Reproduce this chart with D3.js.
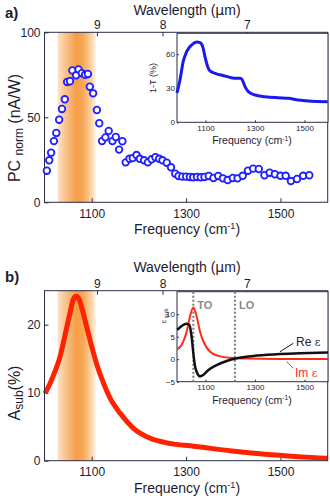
<!DOCTYPE html>
<html lang="en">
<head>
<meta charset="UTF-8" />
<title>Photocurrent and substrate absorption</title>
<style>
  body { margin: 0; background: #fff; }
  text { font-family: "Liberation Sans", Arial, sans-serif; fill: #1c1c30; }
  .frame { fill: none; stroke: #2b2b48; stroke-width: 1px; }
  .inset-bg { fill: #fff; stroke: #2b2b48; stroke-width: 1px; }
  .tick line { stroke: #2b2b48; }
  .axis text { font-size: 12px; }
  .small text { font-size: 8px; }
  .pc-dot { fill: #fff; stroke: #1f1fff; stroke-width: 1.8px; }
  .t-line { fill: none; stroke: #1a1aee; stroke-width: 3px; }
  .a-line { fill: none; stroke: #ff2200; stroke-width: 5px; }
  .re-line { fill: none; stroke: #111; stroke-width: 2.5px; }
  .im-line { fill: none; stroke: #ff2a1a; stroke-width: 2px; }
  .phonon { stroke: #7a7a7a; stroke-width: 2px; stroke-dasharray: 2,2; }
</style>
</head>
<body>
<script src="https://cdn.jsdelivr.net/npm/d3@7"></script>
<script>

// panel a: photocurrent (circles)
var pcFreq = [1005,1010,1014,1020,1025,1031,1037,1043,1048,1054,1059,1067,1072,1079,1086,1092,1096,1103,1111,1116,1122,1129,1136,1144,1151,1158,1165,1172,1180,1187,1195,1202,1211,1219,1227,1235,1243,1250,1259,1268,1277,1284,1292,1300,1308,1315,1323,1331,1339,1348,1358,1368,1378,1388,1399,1409,1420,1431,1442,1454,1466,1477,1488,1500,1511,1522,1535,1548,1561];
var pcValue = [18.6,24.7,29.2,36,40.8,48.6,54.9,60.6,70.8,71.2,77.6,74.7,78.2,76,75,75.5,68,64.1,54.3,46.5,36,38.2,42,36,38.4,31,35.9,23.5,25.6,26,27.8,25.6,24.7,23.5,25.3,26.5,25.6,24.7,23.3,20.6,16.8,15.5,15.1,15.1,14.9,14.7,14.9,14.7,14.9,15.5,14.3,15.5,14.1,13.1,14.3,14.1,15.6,18.6,19.8,19.6,15.9,17.4,16.5,15.6,15.6,12.5,13.7,15.6,15.9];

// inset a: 1-T (%)
var tFreq = [985,997,1010,1024,1044,1065,1078,1089,1098,1109,1118,1139,1179,1219,1240,1249,1260,1273,1300,1341,1394,1435,1475,1515,1594];
var tValue = [26,37.3,53.5,62.3,68.2,70.8,70.3,66.7,57.9,49,45.3,43.2,40.9,38.8,38.8,37.3,31.4,27,24.1,22.6,21.7,21.2,19.7,18.8,18.2];

// panel b: substrate absorption (%)
var aFreq = [1001,1012,1022,1033,1043,1054,1061,1067,1073,1079,1089,1100,1111,1125,1139,1160,1188,1224,1254,1326,1397,1467,1538,1600];
var aValue = [9.9,11.4,13.1,15.3,18.3,21.7,23.7,24.2,23.8,22.5,19.8,16.8,14.1,11.4,9.2,7.0,4.8,3.3,2.7,2.06,1.43,0.94,0.59,0.35];

// inset b: permittivity of the substrate
var reFreq = [986,1010,1024,1035,1044,1051,1058,1067,1078,1091,1112,1145,1186,1226,1293,1388,1482,1595];
var reValue = [6.5,7.6,7.9,7.6,5.0,1.3,-1.6,-3.1,-3.8,-3.5,-2.4,-1.3,-0.4,0.2,0.73,1.1,1.3,1.5];
var imFreq = [986,1004,1024,1037,1051,1065,1078,1098,1118,1152,1199,1267,1400,1595];
var imValue = [2.2,3.2,6.1,9.4,11.5,9.4,6.1,3.2,1.7,0.73,0.3,0.13,0.05,0.02];

var phononFreq = [1051, 1219];
var phononName = ["TO", "LO"];
var bandFreq = [1028, 1109];

var freqTicks = [1100, 1300, 1500];
var waveTicks = [9, 8, 7];

var svg = d3.select("body").append("svg")
  .attr("width", 330)
  .attr("height", 499);

var defs = svg.append("defs");
var grad = defs.append("linearGradient").attr("id", "band");
grad.append("stop").attr("offset", "0%").attr("stop-color", "#fde2c6");
grad.append("stop").attr("offset", "25%").attr("stop-color", "#f9bd83");
grad.append("stop").attr("offset", "50%").attr("stop-color", "#f59c45");
grad.append("stop").attr("offset", "68%").attr("stop-color", "#f7aa5c");
grad.append("stop").attr("offset", "88%").attr("stop-color", "#fbd4a8");
grad.append("stop").attr("offset", "100%").attr("stop-color", "#fff3e8");

var xMain = d3.scaleLinear().domain([1000, 1600]).range([44.5, 327.7]);
var xInset = d3.scaleLinear().domain([985, 1595]).range([177, 328]);

function freqLabel(g, x, y, size) {
  var t = g.append("text").attr("x", x).attr("y", y)
    .attr("text-anchor", "middle").style("font-size", size + "px");
  t.append("tspan").text("Frequency (cm");
  t.append("tspan").attr("dy", -size * 0.35).style("font-size", (size * 0.65) + "px").text("-1");
  t.append("tspan").attr("dy", size * 0.35).text(")");
}

function mainPanel(yScale, yTicks, letter, letterY, waveY) {
  var g = svg.append("g");
  var y0 = yScale.range()[0], y1 = yScale.range()[1];

  g.append("rect")
    .attr("x", xMain(bandFreq[0]))
    .attr("y", y1)
    .attr("width", xMain(bandFreq[1]) - xMain(bandFreq[0]))
    .attr("height", y0 - y1)
    .attr("fill", "url(#band)");

  g.append("g").attr("class", "axis")
    .attr("transform", "translate(0," + y0 + ")")
    .call(d3.axisBottom(xMain).tickValues(freqTicks).tickSize(-4).tickPadding(7).tickFormat(d3.format("d")))
    .call(function(s) { s.select(".domain").remove(); });

  g.append("g").attr("class", "axis")
    .attr("transform", "translate(0," + y1 + ")")
    .call(d3.axisTop(xMain).tickValues(waveTicks.map(function(w) { return 10000 / w; }))
      .tickSize(-4).tickPadding(3)
      .tickFormat(function(d) { return Math.round(10000 / d); }))
    .call(function(s) { s.select(".domain").remove(); });

  g.append("g").attr("class", "axis")
    .attr("transform", "translate(" + xMain.range()[0] + ",0)")
    .call(d3.axisLeft(yScale).tickValues(yTicks).tickSize(-4).tickPadding(4))
    .call(function(s) { s.select(".domain").remove(); });

  g.append("rect").attr("class", "frame")
    .attr("x", xMain.range()[0]).attr("y", y1)
    .attr("width", xMain.range()[1] - xMain.range()[0])
    .attr("height", y0 - y1);

  g.append("text").attr("x", 5).attr("y", letterY)
    .style("font-size", "15px").style("font-weight", "bold").text(letter);

  var w = g.append("text").attr("x", 187).attr("y", waveY)
    .attr("text-anchor", "middle").style("font-size", "14px");
  w.append("tspan").text("Wavelength (");
  w.append("tspan").style("font-family", "'DejaVu Sans', sans-serif").text("\u03bc");
  w.append("tspan").text("m)");

  freqLabel(g, 187, y0 + 32, 14);
  return g;
}

function insetBox(yScale, yTicks) {
  var g = svg.append("g");
  var y0 = yScale.range()[0], y1 = yScale.range()[1];
  g.append("rect").attr("class", "inset-bg")
    .attr("x", xInset.range()[0]).attr("y", y1)
    .attr("width", xInset.range()[1] - xInset.range()[0])
    .attr("height", y0 - y1);

  g.append("g").attr("class", "axis small")
    .attr("transform", "translate(0," + y0 + ")")
    .call(d3.axisBottom(xInset).tickValues(freqTicks).tickSize(-2).tickPadding(3).tickFormat(d3.format("d")))
    .call(function(s) { s.select(".domain").remove(); });

  g.append("g").attr("class", "axis small")
    .attr("transform", "translate(" + xInset.range()[0] + ",0)")
    .call(d3.axisLeft(yScale).tickValues(yTicks).tickSize(-2).tickPadding(2))
    .call(function(s) { s.select(".domain").remove(); });

  freqLabel(g, 252, y0 + 22, 10.5);
  return g;
}

// ---------- panel a ----------
var yA = d3.scaleLinear().domain([0, 100]).range([202.3, 32.3]);
mainPanel(yA, [0, 50, 100], "a)", 18, 15);

svg.append("g").selectAll("circle")
  .data(pcFreq)
  .enter()
  .append("circle")
  .attr("class", "pc-dot")
  .attr("cx", function(d) { return xMain(d); })
  .attr("cy", function(d, i) { return yA(pcValue[i]); })
  .attr("r", 3.3);

var ylabA = svg.append("text")
  .attr("transform", "translate(20,128) rotate(-90)")
  .attr("text-anchor", "middle").style("font-size", "16px");
ylabA.append("tspan").text("PC ");
ylabA.append("tspan").attr("dy", 3).style("font-size", "12px").text("norm");
ylabA.append("tspan").attr("dy", -3).text(" (nA/W)");

var yTi = d3.scaleLinear().domain([0, 78.5]).range([122.3, 33.3]);
var insetA = insetBox(yTi, [0, 30, 60]);
insetA.append("path")
  .datum(tFreq)
  .attr("class", "t-line")
  .attr("d", d3.line()
    .x(function(d) { return xInset(d); })
    .y(function(d, i) { return yTi(tValue[i]); })
    .curve(d3.curveMonotoneX));
insetA.append("text")
  .attr("transform", "translate(156,78) rotate(-90)")
  .attr("text-anchor", "middle").style("font-size", "9px").text("1-T (%)");

// ---------- panel b ----------
var yB = d3.scaleLinear().domain([0, 25]).range([460.7, 290.7]);
var panelB = mainPanel(yB, [0, 10, 20], "b)", 282, 272);
panelB.insert("path", "rect.frame")
  .datum(aFreq)
  .attr("class", "a-line")
  .attr("d", d3.line()
    .x(function(d) { return xMain(d); })
    .y(function(d, i) { return yB(aValue[i]); })
    .curve(d3.curveMonotoneX));

var ylabB = svg.append("text")
  .attr("transform", "translate(20,393) rotate(-90)")
  .attr("text-anchor", "middle").style("font-size", "16px");
ylabB.append("tspan").text("A");
ylabB.append("tspan").attr("dy", 3).style("font-size", "12px").text("sub");
ylabB.append("tspan").attr("dy", -3).text("(%)");

var yEps = d3.scaleLinear().domain([-5, 15]).range([381.7, 291.7]);
var insetB = insetBox(yEps, [-5, 0, 5, 10]);

insetB.selectAll("line.phonon")
  .data(phononFreq)
  .enter()
  .append("line")
  .attr("class", "phonon")
  .attr("x1", function(d) { return xInset(d); })
  .attr("x2", function(d) { return xInset(d); })
  .attr("y1", yEps.range()[1])
  .attr("y2", yEps.range()[0]);

insetB.selectAll("text.phonon-name")
  .data(phononFreq)
  .enter()
  .append("text")
  .attr("class", "phonon-name")
  .attr("x", function(d) { return xInset(d) + 4; })
  .attr("y", 309)
  .style("font-size", "11px").style("font-weight", "bold").style("fill", "#8a8a8a")
  .text(function(d, i) { return phononName[i]; });

insetB.append("path")
  .datum(imFreq)
  .attr("class", "im-line")
  .attr("d", d3.line()
    .x(function(d) { return xInset(d); })
    .y(function(d, i) { return yEps(imValue[i]); })
    .curve(d3.curveMonotoneX));

insetB.append("path")
  .datum(reFreq)
  .attr("class", "re-line")
  .attr("d", d3.line()
    .x(function(d) { return xInset(d); })
    .y(function(d, i) { return yEps(reValue[i]); })
    .curve(d3.curveMonotoneX));

insetB.append("line").attr("x1", 280).attr("y1", 351.7).attr("x2", 293.3).attr("y2", 343.3)
  .attr("stroke", "#111").attr("stroke-width", 1);
insetB.append("line").attr("x1", 286.7).attr("y1", 361.7).attr("x2", 293.3).attr("y2", 368.3)
  .attr("stroke", "#ff2a1a").attr("stroke-width", 1);

var reLab = insetB.append("text").attr("x", 296).attr("y", 346).style("font-size", "12px");
reLab.append("tspan").text("Re ");
reLab.append("tspan").style("font-family", "'DejaVu Serif', serif").style("font-size", "11px").text("\u03b5");
var imLab = insetB.append("text").attr("x", 295).attr("y", 377).style("font-size", "12px").style("fill", "#ff2a1a");
imLab.append("tspan").style("fill", "#ff2a1a").text("Im ");
imLab.append("tspan").style("fill", "#ff2a1a").style("font-family", "'DejaVu Serif', serif").style("font-size", "11px").text("\u03b5");

var epsLab = insetB.append("text")
  .attr("transform", "translate(166,316) rotate(-90)")
  .attr("text-anchor", "middle").style("font-size", "7px");
epsLab.append("tspan").style("font-family", "'DejaVu Serif', serif").text("\u03b5");
epsLab.append("tspan").attr("dy", 2).style("font-size", "6px").text(" sub");

</script>
</body>
</html>
